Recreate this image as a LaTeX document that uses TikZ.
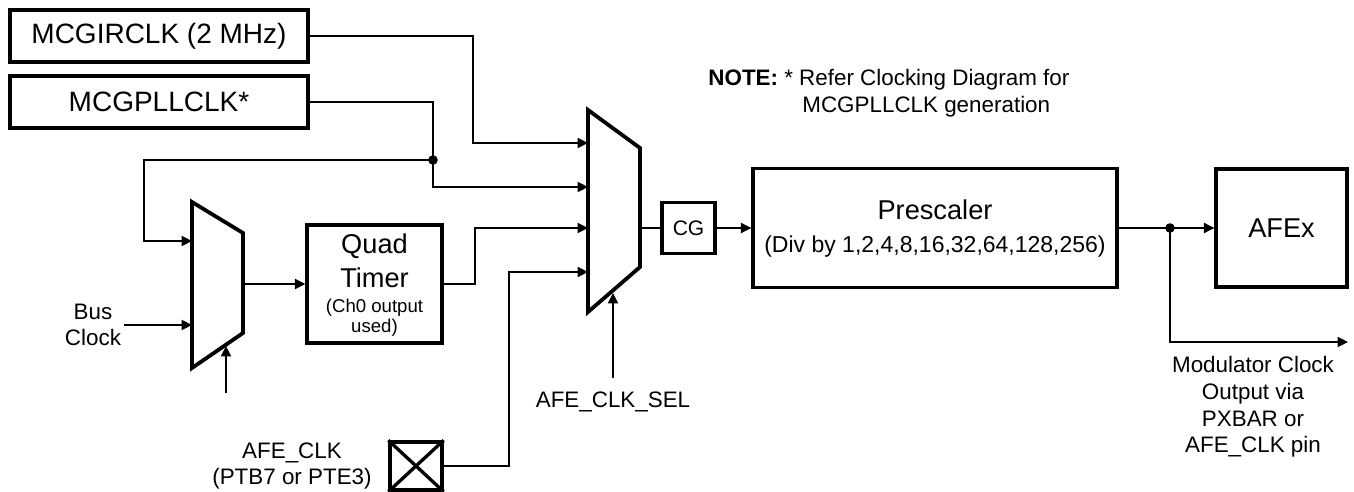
\documentclass[tikz,border=0pt]{standalone}
\usepackage{fontspec}
\setmainfont{Liberation Sans}
\usetikzlibrary{arrows.meta,calc}
\begin{document}
\begin{tikzpicture}[x=0.5pt,y=-0.5pt,
  thickbox/.style={draw,line width=1.65pt,inner sep=0pt},
  wire/.style={line width=1pt},
  arr/.style={wire,-{Triangle[length=5.2pt,width=5pt]}},
  muxshape/.style={line width=1.9pt,line join=miter},
  lbl/.style={inner sep=0pt,font=\fontsize{11.2}{13.3}\selectfont,align=center},
  big/.style={inner sep=0pt,font=\fontsize{13.6}{16}\selectfont},
  jdot/.style={circle,fill,inner sep=0pt,minimum size=4.8pt}
]
\useasboundingbox (0,0) rectangle (1354,492);
% source boxes
\node[thickbox,minimum width=149pt,minimum height=26pt,font=\fontsize{14}{16}\selectfont] (irc) at (159,36) {MCGIRCLK (2 MHz)};
\node[thickbox,minimum width=149pt,minimum height=26pt,font=\fontsize{14}{16}\selectfont] (pll) at (159,102) {MCGPLLCLK*};
% mux 1
\draw[muxshape] (192,202) -- (243,233) -- (243,333) -- (192,368) -- cycle;
\coordinate (m1in1) at (192,241);
\coordinate (m1in2) at (192,325);
\coordinate (m1sel) at (226,346);
\coordinate (m1selsrc) at (226,393);
\coordinate (m1out) at (243,284);
% mux 2
\draw[muxshape] (588,110) -- (640,148) -- (640,267) -- (588,312) -- cycle;
\coordinate (m2in1) at (588,143);
\coordinate (m2in2) at (588,187);
\coordinate (m2in3) at (588,228);
\coordinate (m2in4) at (588,272);
\coordinate (m2sel) at (613,293);
\coordinate (m2selsrc) at (613,378);
\coordinate (m2out) at (640,228);
% quad timer
\node[thickbox,minimum width=67.5pt,minimum height=59pt] (quad) at (374.5,284) {};
\node[big] (qt1) at (374.5,246) {Quad};
\node[big] (qt2) at (374.5,278) {Timer};
\node[inner sep=0pt,font=\fontsize{9.3}{10.5}\selectfont] (qt3) at (374.5,308) {(Ch0 output};
\node[inner sep=0pt,font=\fontsize{9.3}{10.5}\selectfont] (qt4) at (374.5,328) {used)};
% pad
\node[thickbox,minimum width=26pt,minimum height=24pt] (pad) at (416,466) {};
\draw[line width=1.65pt] (pad.north west) -- (pad.south east) (pad.north east) -- (pad.south west);
\node[lbl] (afeclk) at (292,466) {AFE\_CLK\\(PTB7 or PTE3)};
% CG, prescaler, AFEx
\node[thickbox,minimum width=26.5pt,minimum height=25.5pt,font=\fontsize{10.5}{12}\selectfont] (cg) at (688.5,228) {CG};
\node[thickbox,minimum width=182pt,minimum height=59.5pt] (presc) at (935,228) {};
\node[big] (pt1) at (935,210) {Prescaler};
\node[inner sep=0pt,font=\fontsize{11.5}{13}\selectfont] (pt2) at (935,247) {(Div by 1,2,4,8,16,32,64,128,256)};
\node[thickbox,minimum width=65.5pt,minimum height=59pt,font=\fontsize{13.6}{16}\selectfont] (afex) at (1281.5,228) {AFEx};
% labels
\node[lbl] (bus) at (93,325) {Bus\\Clock};
\node[lbl] (sel) at (613,402) {AFE\_CLK\_SEL};
\node[lbl] (mod) at (1253,407) {Modulator Clock\\Output via\\PXBAR or\\AFE\_CLK pin};
\node[lbl,anchor=west] (note1) at (708,80) {\textbf{NOTE:} * Refer Clocking Diagram for};
\node[lbl,anchor=west] (note2) at (802,107) {MCGPLLCLK generation};
% wires
\coordinate (j1) at (433,160);
\coordinate (j2) at (1170,228);
\coordinate (modend) at (1348,342);
\draw[arr] (irc.east) -| ($(m2in1)+(-115,0)$) -- (m2in1);
\draw[wire] (pll.east) -| (j1);
\draw[arr] (j1) |- (m2in2);
\draw[arr] (j1) -| ($(m1in1)+(-48,0)$) -- (m1in1);
\node[jdot] at (j1) {};
\draw[arr,shorten <=1.5pt] (bus.east) -- (m1in2);
\draw[arr] (m1selsrc) -- (m1sel);
\draw[arr] (m1out) -- (quad.west);
\draw[arr] (quad.east) -- ++(31,0) |- (m2in3);
\draw[arr] (pad.east) -- ++(65,0) |- (m2in4);
\draw[arr] (m2selsrc) -- (m2sel);
\draw[wire] (m2out) -- (cg.west);
\draw[arr] (cg.east) -- (presc.west);
\draw[arr] (presc.east) -- (afex.west);
\draw[arr] (j2) |- (modend);
\node[jdot] at (j2) {};
\end{tikzpicture}
\end{document}
